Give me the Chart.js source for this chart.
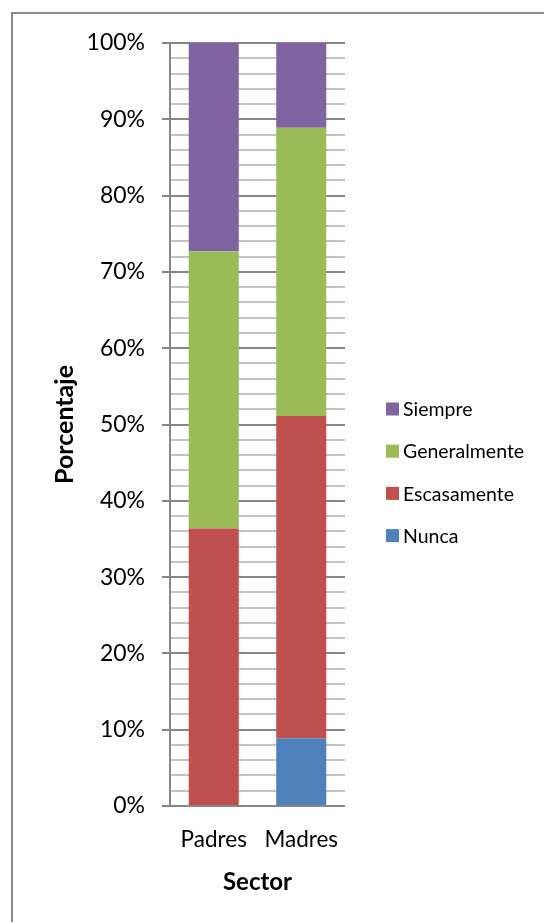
<!DOCTYPE html>
<html>
<head>
<meta charset="utf-8">
<script src="https://cdn.jsdelivr.net/npm/chart.js@4/dist/chart.umd.min.js"></script>
<style>
  html, body { margin: 0; padding: 0; background: #fff; }
  #wrap { position: relative; width: 544px; height: 922px; }
</style>
</head>
<body>
<div id="wrap"><canvas id="chart" width="544" height="922"></canvas></div>
<script>
// Share of responses per sector (percent of each column, columns sum to 100)
const categories = ['Padres', 'Madres'];
const nunca        = [0, 8.89];
const escasamente  = [36.36, 42.22];
const generalmente = [36.36, 37.78];
const siempre      = [27.27, 11.11];

const seriesNames  = ['Nunca', 'Escasamente', 'Generalmente', 'Siempre'];
const seriesColors = ['#4F81BD', '#C0504D', '#9BBB59', '#8064A2'];

const majorStep = 10;   // labelled gridlines
const minorStep = 2;    // light gridlines in between

const FONT = 'Lato, "Noto Sans", sans-serif';
const MAJOR_GRID = '#878787';
const MINOR_GRID = '#c4c4c4';

// Outer frame of the chart object
const framePlugin = {
  id: 'frame',
  beforeDraw(chart) {
    const ctx = chart.ctx;
    ctx.save();
    ctx.strokeStyle = '#8a8a8a';
    ctx.lineWidth = 2;
    ctx.beginPath();
    ctx.moveTo(12, chart.height);
    ctx.lineTo(12, 13);
    ctx.lineTo(chart.width, 13);
    ctx.stroke();
    ctx.restore();
  }
};

// Legend to the right of the plot, series listed top-down in stack order
const sideLegend = {
  id: 'sideLegend',
  afterDraw(chart) {
    const ctx = chart.ctx;
    const items = chart.data.datasets.map((d) => ({ text: d.label, color: d.backgroundColor })).reverse();
    const x = 386, y0 = 409, gap = 42.2, box = 13;
    ctx.save();
    ctx.font = '19.5px ' + FONT;
    ctx.textBaseline = 'middle';
    ctx.textAlign = 'left';
    items.forEach((it, i) => {
      const y = y0 + i * gap;
      ctx.fillStyle = it.color;
      ctx.fillRect(x, y - box / 2, box, box);
      ctx.fillStyle = '#000';
      ctx.fillText(it.text, x + 17, y + 1);
    });
    ctx.restore();
  }
};

const seriesValues = [nunca, escasamente, generalmente, siempre];

new Chart(document.getElementById('chart'), {
  type: 'bar',
  data: {
    labels: categories,
    datasets: seriesValues.map((vals, i) => ({
      label: seriesNames[i],
      data: vals,
      backgroundColor: seriesColors[i],
      borderWidth: 0,
      categoryPercentage: 1,
      barPercentage: 0.572
    }))
  },
  options: {
    responsive: false,
    animation: false,
    events: [],
    layout: { padding: { left: 0, top: 43, right: 199, bottom: 0 } },
    plugins: {
      legend: { display: false },
      tooltip: { enabled: false }
    },
    scales: {
      x: {
        stacked: true,
        grid: { display: false, drawTicks: false },
        border: { display: false },
        ticks: { color: '#000', font: { family: FONT, size: 22.5 }, padding: 20 },
        title: {
          display: true,
          text: 'Sector',
          color: '#000',
          font: { family: FONT, size: 24, weight: 'bold' },
          padding: { top: 0, bottom: 25 }
        },
        afterFit(scale) { scale.height = 116; }
      },
      y: {
        stacked: true,
        min: 0,
        max: 100,
        ticks: {
          stepSize: minorStep,
          autoSkip: false,
          color: '#000',
          padding: 17,
          font: { family: FONT, size: 23 },
          callback: (v) => (v % majorStep === 0 ? v + '%' : '')
        },
        grid: {
          drawTicks: true,
          tickLength: 8,
          lineWidth: 2,
          tickWidth: 2,
          color: (c) => (c.tick && c.tick.value % majorStep === 0 ? MAJOR_GRID : MINOR_GRID),
          tickColor: (c) => (c.tick && c.tick.value % majorStep === 0 ? MAJOR_GRID : 'rgba(0,0,0,0)')
        },
        border: { display: true, color: MAJOR_GRID, width: 2 },
        title: {
          display: true,
          text: 'Porcentaje',
          color: '#000',
          font: { family: FONT, size: 25, weight: 'bold' },
          padding: { top: 50, bottom: 0 }
        },
        afterFit(scale) { scale.width = 170; }
      }
    }
  },
  plugins: [framePlugin, sideLegend]
});
</script>
</body>
</html>
